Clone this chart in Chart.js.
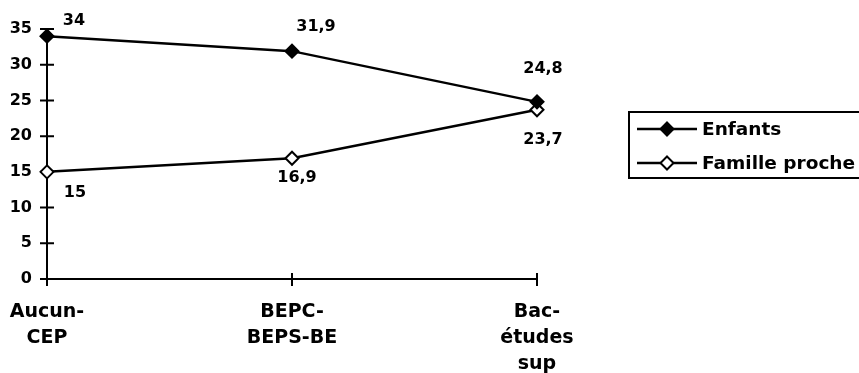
<!DOCTYPE html>
<html>
<head>
<meta charset="utf-8">
<script src="https://cdn.jsdelivr.net/npm/chart.js@4/dist/chart.umd.min.js"></script>
<style>
  html, body { margin: 0; padding: 0; background: #fff; }
  #wrap { width: 859px; height: 373px; }
</style>
</head>
<body>
<div id="wrap"><canvas id="c" width="859" height="373"></canvas></div>
<script>
// Categories (multi-line tick labels)
const categories = [["Aucun-", "CEP"], ["BEPC-", "BEPS-BE"], ["Bac-", "études", "sup"]];
// Series values
const enfants = [34, 31.9, 24.8];
const familleProche = [15, 16.9, 23.7];
const seriesNames = ["Enfants", "Famille proche"];
// Value axis range and step
const yMin = 0;
const yMax = 35;
const yStep = 5;

// Value-label offsets (dx, dy) relative to each point, per series
const labelOffsets = [
  [[27, -15], [24, -24], [6, -33]],
  [[28, 21], [5, 20], [6, 30]]
];

const FONT = "'DejaVu Sans', sans-serif";
const fmt = v => String(v).replace('.', ',');

// Axis lines with ticks crossing both sides, drawn below the series
const axesPlugin = {
  id: 'crossAxes',
  beforeDatasetsDraw(chart) {
    const { ctx, scales: { x, y } } = chart;
    const x0 = x.getPixelForValue(0);
    const xN = x.getPixelForValue(categories.length - 1);
    const yBottom = y.getPixelForValue(yMin);
    const yTop = y.getPixelForValue(yMax);
    ctx.save();
    ctx.strokeStyle = '#000';
    ctx.lineWidth = 2;
    ctx.beginPath();
    ctx.moveTo(x0, yTop);
    ctx.lineTo(x0, yBottom);
    ctx.moveTo(x0, yBottom);
    ctx.lineTo(xN, yBottom);
    for (let v = yMin; v <= yMax; v += yStep) {
      const py = y.getPixelForValue(v);
      ctx.moveTo(x0 - 7, py);
      ctx.lineTo(x0 + 7, py);
    }
    for (let i = 0; i < categories.length; i++) {
      const px = x.getPixelForValue(i);
      ctx.moveTo(px, yBottom - 6);
      ctx.lineTo(px, yBottom + 7);
    }
    ctx.stroke();
    ctx.restore();
  },
  afterDraw(chart) {
    const { ctx } = chart;
    ctx.save();
    // Value labels
    ctx.fillStyle = '#000';
    ctx.font = `bold 16px ${FONT}`;
    ctx.textAlign = 'center';
    ctx.textBaseline = 'middle';
    chart.data.datasets.forEach((ds, di) => {
      const meta = chart.getDatasetMeta(di);
      meta.data.forEach((pt, i) => {
        const [dx, dy] = labelOffsets[di][i];
        ctx.fillText(fmt(ds.data[i]), pt.x + dx, pt.y + dy);
      });
    });

    // Legend box
    const lx = 629, ly = 112, lw = 240, lh = 66;
    ctx.strokeStyle = '#000';
    ctx.lineWidth = 2;
    ctx.strokeRect(lx, ly, lw, lh);
    const rows = [129, 163];
    chart.data.datasets.forEach((ds, di) => {
      const ry = rows[di];
      ctx.beginPath();
      ctx.moveTo(637, ry);
      ctx.lineTo(697, ry);
      ctx.lineWidth = 2.5;
      ctx.stroke();
      ctx.lineWidth = 2;
      const r = 6.5, cx = 667;
      ctx.beginPath();
      ctx.moveTo(cx, ry - r);
      ctx.lineTo(cx + r, ry);
      ctx.lineTo(cx, ry + r);
      ctx.lineTo(cx - r, ry);
      ctx.closePath();
      ctx.fillStyle = ds.pointBackgroundColor;
      ctx.fill();
      ctx.stroke();
      ctx.fillStyle = '#000';
      ctx.font = `bold 18.5px ${FONT}`;
      ctx.textAlign = 'left';
      ctx.textBaseline = 'middle';
      ctx.fillText(ds.label, 702, ry + 1);
    });
    ctx.restore();
  }
};

new Chart(document.getElementById('c'), {
  type: 'line',
  data: {
    labels: categories,
    datasets: [
      {
        label: seriesNames[0],
        data: enfants,
        borderColor: '#000',
        borderWidth: 2.5,
        pointStyle: 'rectRot',
        pointRadius: 6.5,
        pointBorderWidth: 2,
        pointBackgroundColor: '#000',
        pointBorderColor: '#000',
        tension: 0,
        clip: false
      },
      {
        label: seriesNames[1],
        data: familleProche,
        borderColor: '#000',
        borderWidth: 2.5,
        pointStyle: 'rectRot',
        pointRadius: 6.5,
        pointBorderWidth: 2,
        pointBackgroundColor: '#fff',
        pointBorderColor: '#000',
        tension: 0,
        clip: false
      }
    ]
  },
  options: {
    responsive: false,
    animation: false,
    devicePixelRatio: 1,
    layout: { padding: { top: 29, right: 322, left: 0, bottom: 0 } },
    plugins: { legend: { display: false }, tooltip: { enabled: false } },
    scales: {
      x: {
        type: 'category',
        offset: false,
        grid: { display: false, drawTicks: false },
        border: { display: false },
        ticks: {
          color: '#000',
          font: { family: FONT, size: 19, weight: 'bold', lineHeight: 1.37 },
          padding: 20,
          maxRotation: 0,
          autoSkip: false
        },
        afterFit(scale) {
          scale.height = 94;
          scale.paddingLeft = 0;
          scale.paddingRight = 0;
        }
      },
      y: {
        min: yMin,
        max: yMax,
        grid: { display: false, drawTicks: false },
        border: { display: false },
        ticks: {
          stepSize: yStep,
          color: '#000',
          font: { family: FONT, size: 16, weight: 'bold' },
          padding: 15
        },
        afterFit(scale) {
          scale.width = 47;
          scale.paddingTop = 0;
          scale.paddingBottom = 0;
        }
      }
    }
  },
  plugins: [axesPlugin]
});
</script>
</body>
</html>
